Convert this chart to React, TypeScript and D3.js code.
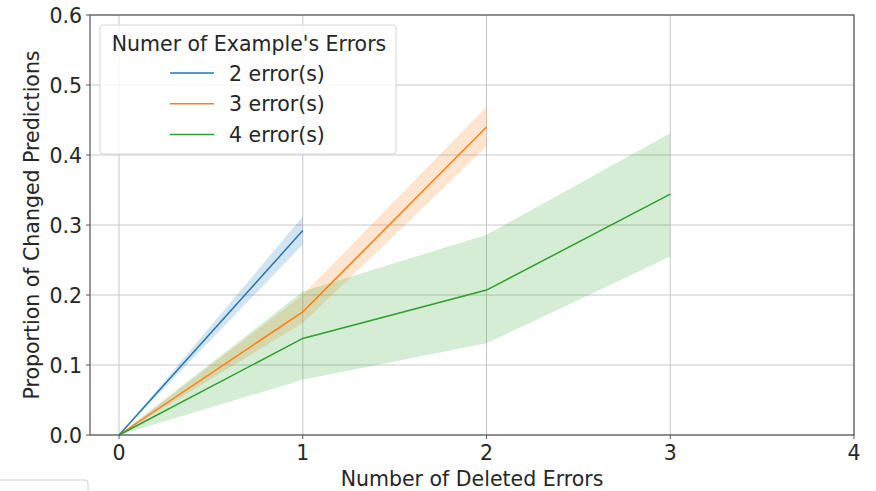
import React from "react";
import * as d3 from "d3";

const xTicks = [0, 1, 2, 3, 4];
const yTicks = [0.0, 0.1, 0.2, 0.3, 0.4, 0.5, 0.6];
const yTickLabels = ["0.0", "0.1", "0.2", "0.3", "0.4", "0.5", "0.6"];

const seriesNames = ["2 error(s)", "3 error(s)", "4 error(s)"];
const seriesColors = ["#1f77b4", "#ff7f0e", "#2ca02c"];

const xs2 = [0, 1];
const mean2 = [0, 0.292];
const lo2 = [0, 0.272];
const hi2 = [0, 0.312];

const xs3 = [0, 1, 2];
const mean3 = [0, 0.176, 0.44];
const lo3 = [0, 0.16, 0.412];
const hi3 = [0, 0.2, 0.469];

const xs4 = [0, 1, 2, 3];
const mean4 = [0, 0.138, 0.207, 0.344];
const lo4 = [0, 0.079, 0.131, 0.255];
const hi4 = [0, 0.205, 0.286, 0.431];

const legendTitle = "Numer of Example's Errors";
const xLabel = "Number of Deleted Errors";
const yLabel = "Proportion of Changed Predictions";

const W = 876;
const H = 491;
const L = 90, R = 854, T = 15, B = 435;

export default function App() {
  const x = d3.scaleLinear().domain([-0.158, 4]).range([L, R]);
  const y = d3.scaleLinear().domain([0, 0.6]).range([B, T]);

  const series = [
    { xs: xs2, m: mean2, lo: lo2, hi: hi2 },
    { xs: xs3, m: mean3, lo: lo3, hi: hi3 },
    { xs: xs4, m: mean4, lo: lo4, hi: hi4 },
  ];

  const font = "DejaVu Sans, sans-serif";
  const fs = 20.5;
  const txt = "#262626";

  return (
    <svg width={W} height={H} style={{ position: "absolute", left: 0, top: 0, background: "#fff" }} fontFamily={font}>
      <rect x={0} y={0} width={W} height={H} fill="#fff" />
      {xTicks.map((t) => (
        <line key={"gx" + t} x1={x(t)} x2={x(t)} y1={T} y2={B} stroke="#c8c8c8" strokeWidth={1} />
      ))}
      {yTicks.map((t) => (
        <line key={"gy" + t} x1={L} x2={R} y1={y(t)} y2={y(t)} stroke="#c8c8c8" strokeWidth={1} />
      ))}
      {series.map((s, i) => {
        const pts = s.xs.map((xv, j) => ({ x: xv, lo: s.lo[j], hi: s.hi[j] }));
        const area = d3
          .area<any>()
          .x((d) => x(d.x))
          .y0((d) => y(d.lo))
          .y1((d) => y(d.hi))(pts);
        return <path key={"a" + i} d={area || ""} fill={seriesColors[i]} fillOpacity={0.2} stroke="none" />;
      })}
      {series.map((s, i) => {
        const pts = s.xs.map((xv, j) => ({ x: xv, m: s.m[j] }));
        const line = d3
          .line<any>()
          .x((d) => x(d.x))
          .y((d) => y(d.m))(pts);
        return <path key={"l" + i} d={line || ""} fill="none" stroke={seriesColors[i]} strokeWidth={1.5} />;
      })}
      <rect x={L} y={T} width={R - L} height={B - T} fill="none" stroke="#555" strokeWidth={1.2} />
      {xTicks.map((t) => (
        <g key={"tx" + t}>
          <line x1={x(t)} x2={x(t)} y1={B} y2={B + 4} stroke="#555" strokeWidth={1} />
          <text x={x(t)} y={B + 25} textAnchor="middle" fontSize={fs} fill={txt}>
            {t}
          </text>
        </g>
      ))}
      {yTicks.map((t, i) => (
        <g key={"ty" + t}>
          <line x1={L - 4} x2={L} y1={y(t)} y2={y(t)} stroke="#555" strokeWidth={1} />
          <text x={L - 8} y={y(t) + 7.5} textAnchor="end" fontSize={fs} fill={txt}>
            {yTickLabels[i]}
          </text>
        </g>
      ))}
      <text x={(L + R) / 2} y={486} textAnchor="middle" fontSize={fs} fill={txt}>
        {xLabel}
      </text>
      <text transform={`translate(39, ${(T + B) / 2}) rotate(-90)`} textAnchor="middle" fontSize={fs} fill={txt}>
        {yLabel}
      </text>
      <g>
        <rect x={100} y={25} width={296} height={129} rx={3} fill="#fff" fillOpacity={0.8} stroke="#d6d6d6" strokeWidth={1} />
        <text x={249} y={51} textAnchor="middle" fontSize={fs} fill={txt}>
          {legendTitle}
        </text>
        {seriesNames.map((n, i) => (
          <g key={"lg" + i}>
            <line x1={170} x2={214} y1={73 + i * 30.8} y2={73 + i * 30.8} stroke={seriesColors[i]} strokeWidth={1.5} />
            <text x={229} y={73 + i * 30.8 + 7.5} fontSize={fs} fill={txt}>
              {n}
            </text>
          </g>
        ))}
      </g>
      <rect x={-5} y={480} width={93} height={20} rx={3} fill="none" stroke="#d0d0d0" strokeWidth={1} />
    </svg>
  );
}
